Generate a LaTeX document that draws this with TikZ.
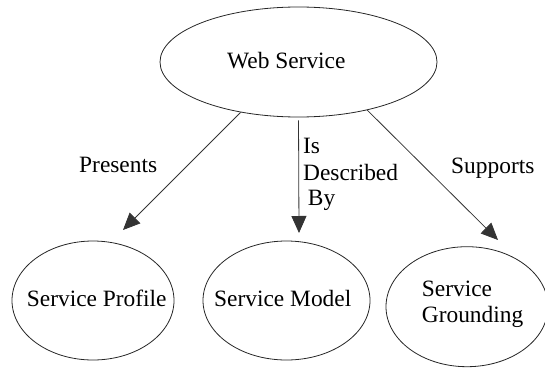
\documentclass[tikz,border=0pt]{standalone}
\usepackage{fontspec}
\setmainfont{Liberation Serif}
\usetikzlibrary{arrows.meta,shapes.geometric}
\tikzset{
  ell/.style={draw=black!85, line width=0.8pt, ellipse, inner sep=0pt},
  txt/.style={inner sep=0pt, anchor=base west, font=\fontsize{23.4}{27}\selectfont},
  arr/.style={draw=black!80, line width=0.8pt, -{Triangle[length=17pt,width=15pt]}}
}
\begin{document}
\begin{tikzpicture}[x=1pt,y=-1pt]
\useasboundingbox (0,0) rectangle (545,369);
% ellipses
\node[ell, minimum width=277pt, minimum height=110pt] (ws) at (298.5,62) {};
\node[ell, minimum width=162pt, minimum height=119pt] (sp) at (93,300.5) {};
\node[ell, minimum width=167pt, minimum height=119pt] (sm) at (286.5,300.5) {};
\node[ell, minimum width=162pt, minimum height=120pt] (sg) at (467,306.7) {};
% texts
\node[txt] (wsT) at (227,68) {Web Service};
\node[txt] (spT) at (26.7,306.7) {Service Profile};
\node[txt] (smT) at (214,306.7) {Service Model};
\node[txt] (sgT1) at (421.7,296.7) {Service};
\node[txt] (sgT2) at (421.7,322.7) {Grounding};
% labels
\node[txt] (lp) at (79,172) {Presents};
\node[txt] (ld1) at (303,153) {Is};
\node[txt] (ld2) at (303,180) {Described};
\node[txt] (ld3) at (307.7,205) {By};
\node[txt] (ls) at (451,173) {Supports};
% arrow tips
\coordinate (t1) at (123,230);
\coordinate (t2) at (299,233);
\coordinate (t3) at (498,240);
\draw[arr] (ws.-139) -- (t1);
\draw[arr, shorten <=3pt] (ws.south) -- (t2);
\draw[arr] (ws.-35) -- (t3);
\end{tikzpicture}
\end{document}
